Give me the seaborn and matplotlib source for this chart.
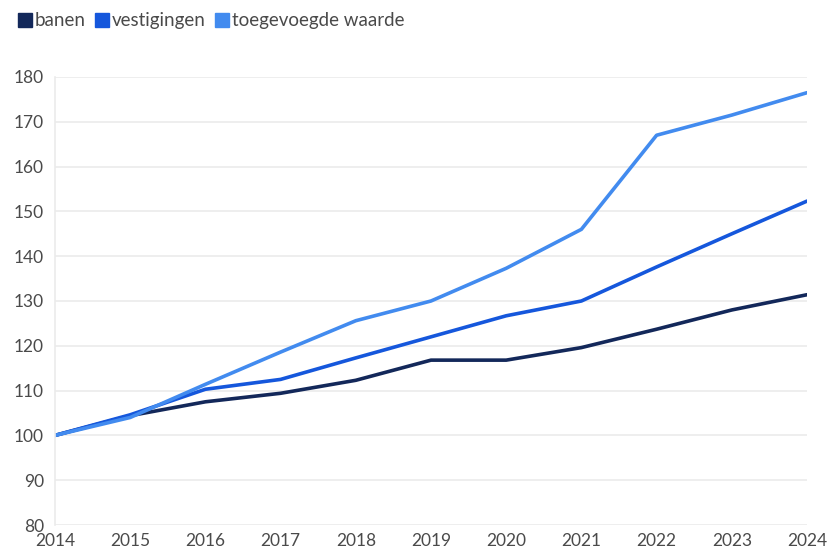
import pandas as pd
import matplotlib.pyplot as plt
import seaborn as sns
from matplotlib.lines import Line2D

# index 2014 = 100
jaren = [2014, 2015, 2016, 2017, 2018, 2019, 2020, 2021, 2022, 2023, 2024]
banen = [100, 104.4, 107.5, 109.4, 112.3, 116.8, 116.8, 119.6, 123.7, 128.0, 131.4]
vestigingen = [100, 104.6, 110.3, 112.5, 117.3, 122.0, 126.7, 130.0, 137.6, 145.0, 152.3]
toegevoegde_waarde = [100, 104.0, 111.4, 118.6, 125.6, 130.0, 137.3, 146.0, 167.0, 171.5, 176.5]

namen = ['banen', 'vestigingen', 'toegevoegde waarde']
kleuren = ['#13285a', '#1557dc', '#428bef']

df = pd.DataFrame({'jaar': jaren, 'banen': banen, 'vestigingen': vestigingen,
                   'toegevoegde waarde': toegevoegde_waarde})
df = df.melt(id_vars='jaar', var_name='reeks', value_name='index')

sns.set_style('white')
plt.rcParams['font.family'] = ['Lato', 'DejaVu Sans']

fig = plt.figure(figsize=(8.29, 5.48), dpi=100)
ax = fig.add_axes([55 / 829, 1 - 525 / 548, (807 - 55) / 829, (525 - 77) / 548])

sns.lineplot(data=df, x='jaar', y='index', hue='reeks', hue_order=namen,
             palette=kleuren, linewidth=2.6, legend=False, ax=ax,
             solid_joinstyle='round', solid_capstyle='round')

ax.set_xlim(2014, 2024)
ax.set_ylim(80, 180)
ax.set_xticks(jaren)
ax.set_yticks(range(80, 181, 10))
ax.set_xlabel('')
ax.set_ylabel('')
ax.grid(axis='y', color='#ebebeb', linewidth=1.2)
ax.set_axisbelow(True)
for s in ['top', 'right', 'bottom']:
    ax.spines[s].set_visible(False)
ax.spines['left'].set_color('#ebebeb')
ax.spines['left'].set_linewidth(1.2)
ax.tick_params(axis='both', colors='#ebebeb', labelcolor='#4a4a4a',
               labelsize=12.5, length=5, width=1.2, pad=3)
ax.tick_params(axis='x', pad=1)

handles = [Line2D([0], [0], marker='s', linestyle='', markersize=10.5,
                  markerfacecolor=c, markeredgecolor=c) for c in kleuren]
fig.legend(handles, namen, loc='upper left', bbox_to_anchor=(0.002, 1.008),
           ncol=3, frameon=False, fontsize=13.5, handletextpad=0.15,
           columnspacing=0.55, handlelength=0.7, labelcolor='#4a4a4a')

fig.savefig('out.png', dpi=100, facecolor='white')
